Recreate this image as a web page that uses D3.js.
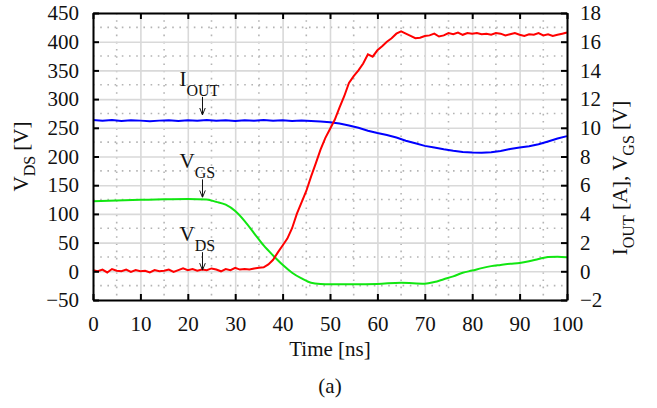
<!DOCTYPE html>
<html>
<head>
<meta charset="utf-8">
<script src="https://cdn.jsdelivr.net/npm/d3@7"></script>
<style>
  body { margin: 0; background: #fff; }
  svg text { font-family: "Liberation Serif", "Times New Roman", serif; fill: #111; }
</style>
</head>
<body>
<svg id="chart" width="657" height="408"></svg>
<script>
// time axis (ns)
var timeRed = d3.range(0, 101, 1);
var timeBlue = [0,2,4,6,8,10,12,14,16,18,20,22,24,26,28,30,32,34,36,38,40,42,44,46,48,50,
                52,54,56,58,60,62,64,66,68,70,72,74,76,78,80,82,84,86,88,90,92,94,96,98,100];
var timeGreen = [0,5,10,15,20,24,26,28,30,32,34,36,38,40,42,44,46,48,50,55,60,65,70,72,74,76,
                 78,80,82,84,86,88,90,92,94,96,98,100];

// V_DS [V] (left axis)
var vds = [2,0,3,-2,4,1,0,3,-1,2,0,1,-2,2,0,1,3,-1,2,5,2,4,1,3,2,5,3,0,4,2,6,3,4,3,5,6,
           7,12,20,33,45,57,75,100,120,140,165,188,212,232,248,264,285,305,328,340,350,362,
           378,374,385,392,400,406,414,418,414,410,406,407,410,411,414,409,411,415,413,416,
           412,415,414,415,413,414,412,415,414,411,413,415,412,410,413,412,415,411,413,410,
           412,414,416];

// I_OUT [A] (right axis)
var iout = [10.55,10.5,10.54,10.48,10.52,10.5,10.46,10.5,10.53,10.48,10.52,10.49,10.54,10.5,
            10.52,10.48,10.52,10.5,10.54,10.5,10.52,10.48,10.5,10.47,10.44,10.38,10.3,10.16,
            10.0,9.8,9.64,9.5,9.32,9.1,8.92,8.74,8.62,8.5,8.4,8.32,8.28,8.26,8.3,8.38,8.52,
            8.62,8.72,8.85,9.05,9.25,9.42];

// V_GS [V] (right axis)
var vgs = [4.88,4.94,4.98,5.02,5.04,5.0,4.84,4.64,4.2,3.5,2.65,1.8,1.1,0.45,-0.1,-0.5,-0.8,
           -0.88,-0.9,-0.9,-0.88,-0.8,-0.86,-0.75,-0.55,-0.35,-0.1,0.05,0.22,0.36,0.44,0.52,
           0.58,0.7,0.86,1.0,1.02,0.98];

var xTicks = [0,10,20,30,40,50,60,70,80,90,100];
var leftTicks = [-50,0,50,100,150,200,250,300,350,400,450];
var rightTicks = [-2,0,2,4,6,8,10,12,14,16,18];

var margin = {top: 13, right: 90, bottom: 108, left: 93};
var W = 657, H = 408;
var width = W - margin.left - margin.right;
var height = H - margin.top - margin.bottom;

var svg = d3.select("#chart");
var g = svg.append("g").attr("transform", "translate(" + margin.left + "," + margin.top + ")");

var x = d3.scaleLinear().domain([0, 100]).range([0, width]);
var yL = d3.scaleLinear().domain([-50, 450]).range([height, 0]);
var yR = d3.scaleLinear().domain([-2, 18]).range([height, 0]);

// minor dotted grid
var minorX = d3.range(5, 100, 10);
var minorY = d3.range(-25, 450, 50);
g.selectAll(".minx").data(minorX).enter().append("line")
  .attr("x1", d => x(d)).attr("x2", d => x(d)).attr("y1", 0).attr("y2", height)
  .attr("stroke", "#b4b4b4").attr("stroke-width", 1.6).attr("stroke-dasharray", "1.6,5.6");
g.selectAll(".miny").data(minorY).enter().append("line")
  .attr("x1", 0).attr("x2", width).attr("y1", d => yL(d)).attr("y2", d => yL(d))
  .attr("stroke", "#b4b4b4").attr("stroke-width", 1.6).attr("stroke-dasharray", "1.6,5.6");

// major grid
g.append("g").call(d3.axisBottom(x).tickValues(xTicks).tickSize(height).tickFormat(""))
  .call(a => a.select(".domain").remove())
  .selectAll("line").attr("stroke", "#d9d9d9").attr("stroke-width", 1.6);
g.append("g").call(d3.axisLeft(yL).tickValues(leftTicks).tickSize(-width).tickFormat(""))
  .call(a => a.select(".domain").remove())
  .selectAll("line").attr("stroke", "#d9d9d9").attr("stroke-width", 1.6);

// curves
var redLine = d3.line().x((d, i) => x(timeRed[i])).y(d => yL(d));
var blueLine = d3.line().x((d, i) => x(timeBlue[i])).y(d => yR(d));
var greenLine = d3.line().curve(d3.curveMonotoneX).x((d, i) => x(timeGreen[i])).y(d => yR(d));

g.append("path").datum(vgs).attr("d", greenLine)
  .attr("fill", "none").attr("stroke", "#11e611").attr("stroke-width", 2);
g.append("path").datum(iout).attr("d", blueLine)
  .attr("fill", "none").attr("stroke", "#0000ff").attr("stroke-width", 2);
g.append("path").datum(vds).attr("d", redLine)
  .attr("fill", "none").attr("stroke", "#ff0000").attr("stroke-width", 2);

// frame with inward ticks
function styleAxis(a) {
  a.select(".domain").attr("stroke", "#000").attr("stroke-width", 2);
  a.selectAll(".tick line").attr("stroke", "#000").attr("stroke-width", 2);
  a.selectAll("text").style("font-size", "21px").attr("fill", "#111");
}
g.append("g").attr("transform", "translate(0," + height + ")")
  .call(d3.axisBottom(x).tickValues(xTicks).tickSizeInner(-6).tickSizeOuter(0).tickPadding(16))
  .call(styleAxis);
g.append("g")
  .call(d3.axisTop(x).tickValues(xTicks).tickSizeInner(-6).tickSizeOuter(0).tickFormat(""))
  .call(styleAxis);
g.append("g")
  .call(d3.axisLeft(yL).tickValues(leftTicks).tickSizeInner(-6).tickSizeOuter(0).tickPadding(14))
  .call(styleAxis);
g.append("g").attr("transform", "translate(" + width + ",0)")
  .call(d3.axisRight(yR).tickValues(rightTicks).tickSizeInner(-6).tickSizeOuter(0).tickPadding(13))
  .call(styleAxis);

// axis titles
function subLabel(sel, parts) {
  parts.forEach(function(p) {
    var t = sel.append("tspan").text(p[0]);
    if (p[1]) t.attr("dy", p[1]);
    if (p[2]) t.style("font-size", p[2]);
  });
}
var lt = svg.append("text").attr("text-anchor", "middle")
  .attr("transform", "translate(28," + (margin.top + height / 2) + ") rotate(-90)")
  .style("font-size", "21px");
subLabel(lt, [["V"], ["DS", 7, "16px"], [" [V]", -7]]);

var rt = svg.append("text").attr("text-anchor", "middle")
  .attr("transform", "translate(627,178) rotate(-90)")
  .style("font-size", "21px");
subLabel(rt, [["I"], ["OUT", 7, "16px"], [" [A], V", -7], ["GS", 7, "16px"], [" [V]", -7]]);

svg.append("text").attr("x", margin.left + width / 2).attr("y", 356)
  .attr("text-anchor", "middle").style("font-size", "21px").text("Time [ns]");
svg.append("text").attr("x", margin.left + width / 2).attr("y", 393)
  .attr("text-anchor", "middle").style("font-size", "21px").text("(a)");

// curve annotations
var annLabels = [["I", "OUT"], ["V", "GS"], ["V", "DS"]];
var annTime = [23.1, 23.1, 23.1];
var annTip = [10.9, 5.15, 2];          // value the arrow points to
var annScale = [yR, yR, yL];
var annLen = 18;

var defs = svg.append("defs");
defs.append("marker").attr("id", "ah").attr("viewBox", "0 0 10 10")
  .attr("refX", 10).attr("refY", 5).attr("markerWidth", 7).attr("markerHeight", 7)
  .attr("orient", "auto")
  .append("path").attr("d", "M0,1 L10,5 L0,9").attr("fill", "none").attr("stroke", "#111").attr("stroke-width", 1.4);

annLabels.forEach(function(l, i) {
  var ax = x(annTime[i]);
  var tipY = annScale[i](annTip[i]);
  g.append("line").attr("x1", ax).attr("x2", ax)
    .attr("y1", tipY - annLen).attr("y2", tipY)
    .attr("stroke", "#111").attr("stroke-width", 1).attr("marker-end", "url(#ah)");
  var t = g.append("text").attr("x", ax - 23).attr("y", tipY - annLen - 11)
    .style("font-size", "21px");
  t.append("tspan").text(l[0]);
  t.append("tspan").text(l[1]).attr("dy", 10).style("font-size", "16px");
});
</script>
</body>
</html>
